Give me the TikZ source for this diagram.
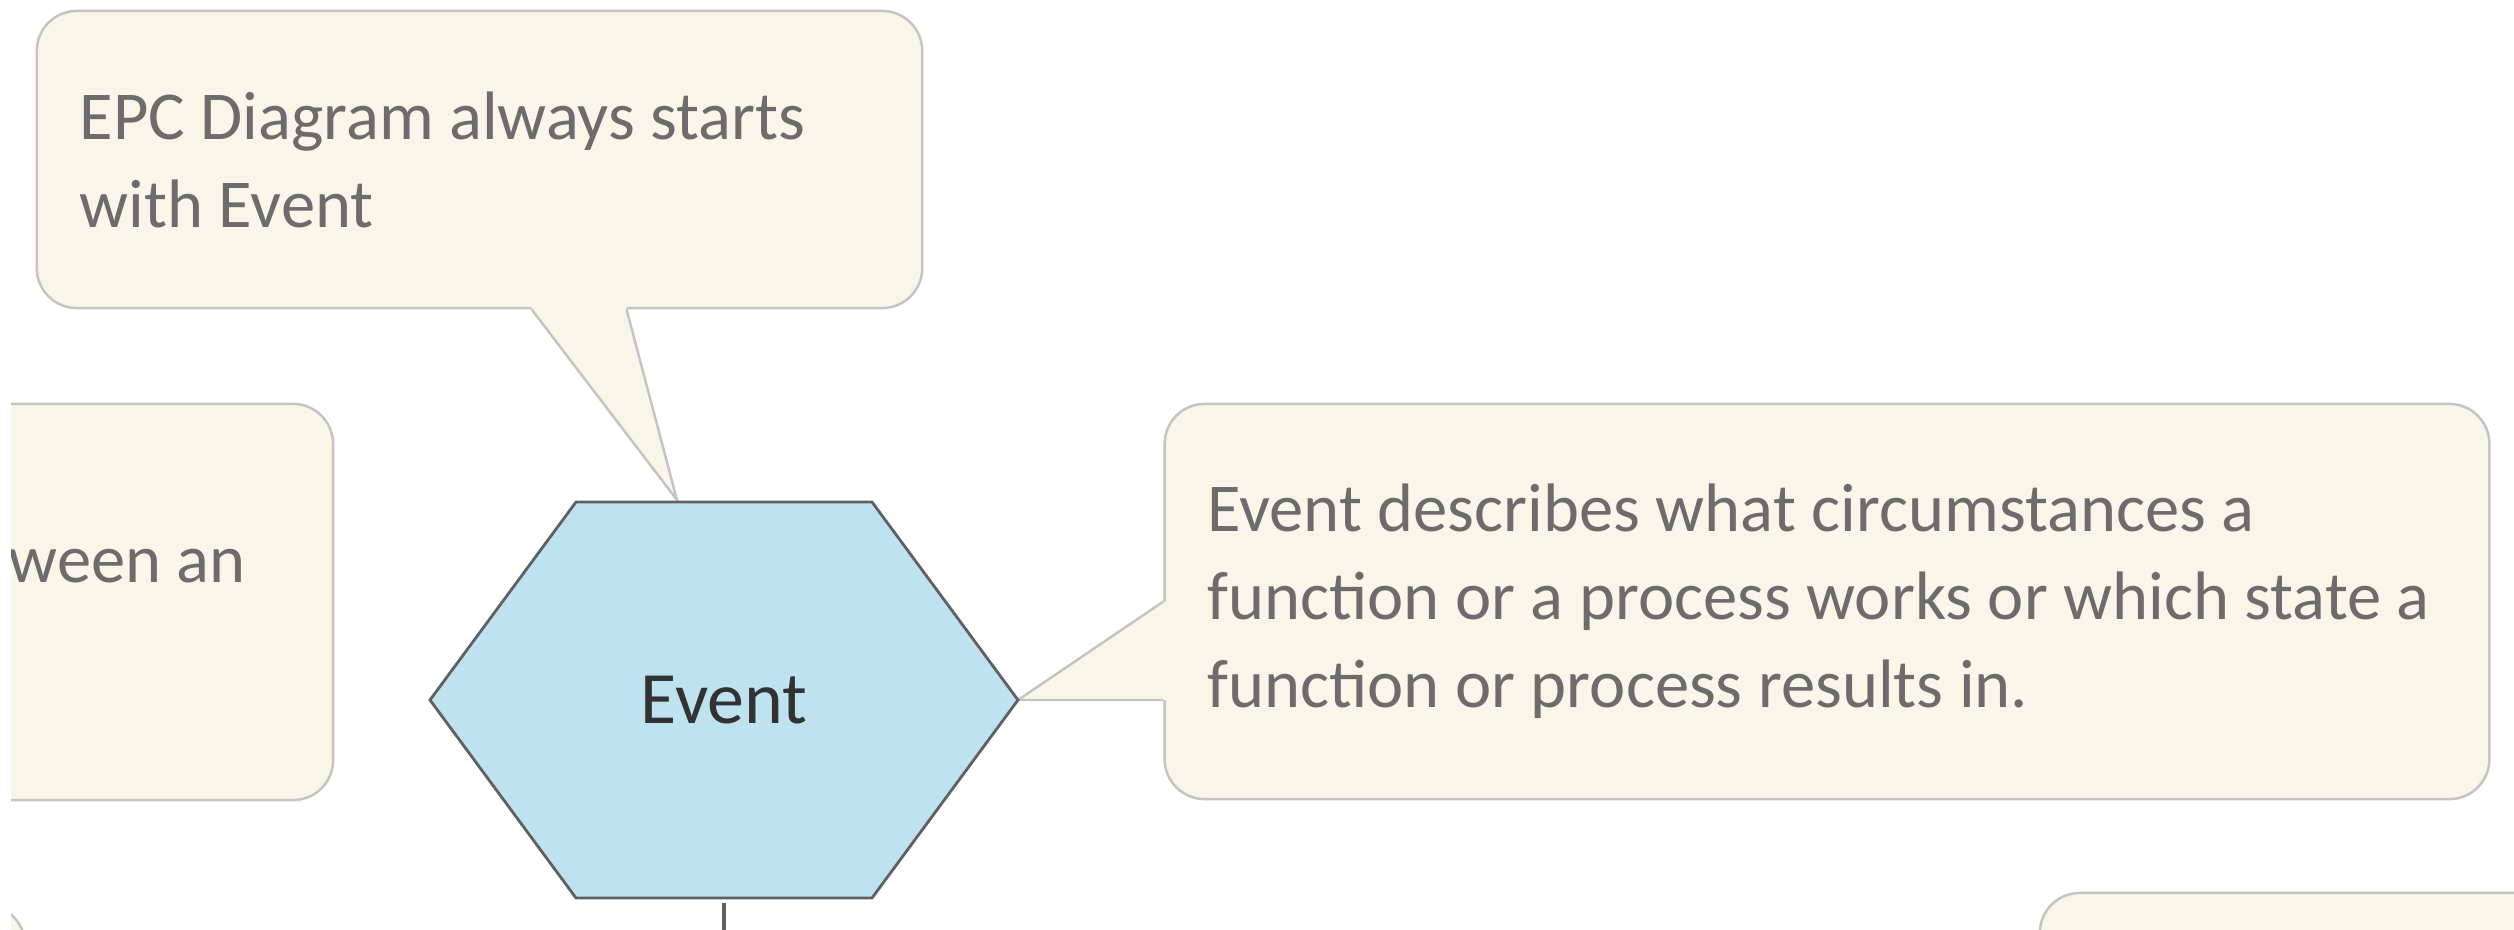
\documentclass[tikz,border=0pt]{standalone}
\usepackage{fontspec}
\setmainfont{Carlito}
\usetikzlibrary{calc}
\definecolor{notefill}{RGB}{248,246,232}
\definecolor{noteline}{RGB}{196,196,192}
\definecolor{notetext}{RGB}{108,108,108}
\definecolor{eventfill}{RGB}{190,226,240}
\definecolor{eventline}{RGB}{96,96,96}
\definecolor{eventtext}{RGB}{50,50,50}
\begin{document}
\begin{tikzpicture}[x=0.01cm,y=-0.01cm,
	note/.style={draw=noteline,fill=notefill,line width=0.7pt,rounded corners=0.4cm,text=notetext,font=\fontsize{19.5}{25}\selectfont,align=flush left,inner xsep=0.43cm,inner ysep=0pt},
	notetxt/.style={text=notetext,font=\fontsize{19.5}{25}\selectfont,inner sep=0pt},
	tail/.style={fill=notefill},
	tailline/.style={draw=noteline,line width=0.7pt},
	hexa/.style={draw=eventline,fill=eventfill,line width=0.8pt},
	eventlabel/.style={text=eventtext,font=\fontsize{21}{25}\selectfont,minimum height=3.96cm,inner sep=0pt},
	link/.style={draw=eventline,line width=0.9pt}]
	\useasboundingbox (0,0) rectangle (2514,930);
	\clip (11,0) rectangle (2514,930);
	\node[note,minimum width=4.5cm,minimum height=3.96cm] (leftnote) at (108,602) {};
	\node[notetxt,anchor=west] (lefttext) at (8,566) {ween an};
	\node[note,minimum width=3cm,minimum height=3cm] (lowleftnote) at (-125,1055) {};
	\node[note,minimum width=6cm,minimum height=3cm] (lowrightnote) at (2340,1043) {};
	\node[note,text width=7.99cm,minimum height=2.97cm] (startnote) at (479.5,159.5) {EPC Diagram always starts\\with Event};
	\node[note,text width=12.38cm,minimum height=3.95cm] (eventnote) at (1827,601.5) {Event describes what circumstances a\\function or a process works or which state a\\function or process results in.};
	\coordinate (hexW) at (430,700);
	\coordinate (hexE) at (1018,700);
	\coordinate (starttip) at (677,500);
	\fill[tail] ($(startnote.south west)+(496,-4)$) -- ($(startnote.south west)+(496,0)$) -- (starttip) -- ($(startnote.south west)+(591,0)$) -- ($(startnote.south west)+(591,-4)$) -- cycle;
	\draw[tailline] ($(startnote.south west)+(496,0)$) -- (starttip) -- ($(startnote.south west)+(591,0)$);
	\fill[tail] ($(eventnote.west)+(4,0)$) -- (eventnote.west) -- (hexE) -- (eventnote.west |- hexE) -- ++(4,0) -- cycle;
	\draw[tailline] (eventnote.west) -- (hexE) -- (eventnote.west |- hexE);
	\draw[hexa] (hexW) -- (576,502) -- (872,502) -- (hexE) -- (872,898) -- (576,898) -- cycle;
	\node[eventlabel] (event) at (724,700) {Event};
	\coordinate (linkend) at (724,940);
	\draw[link,shorten <=0.04cm] (event.south) -- (linkend);
\end{tikzpicture}
\end{document}
